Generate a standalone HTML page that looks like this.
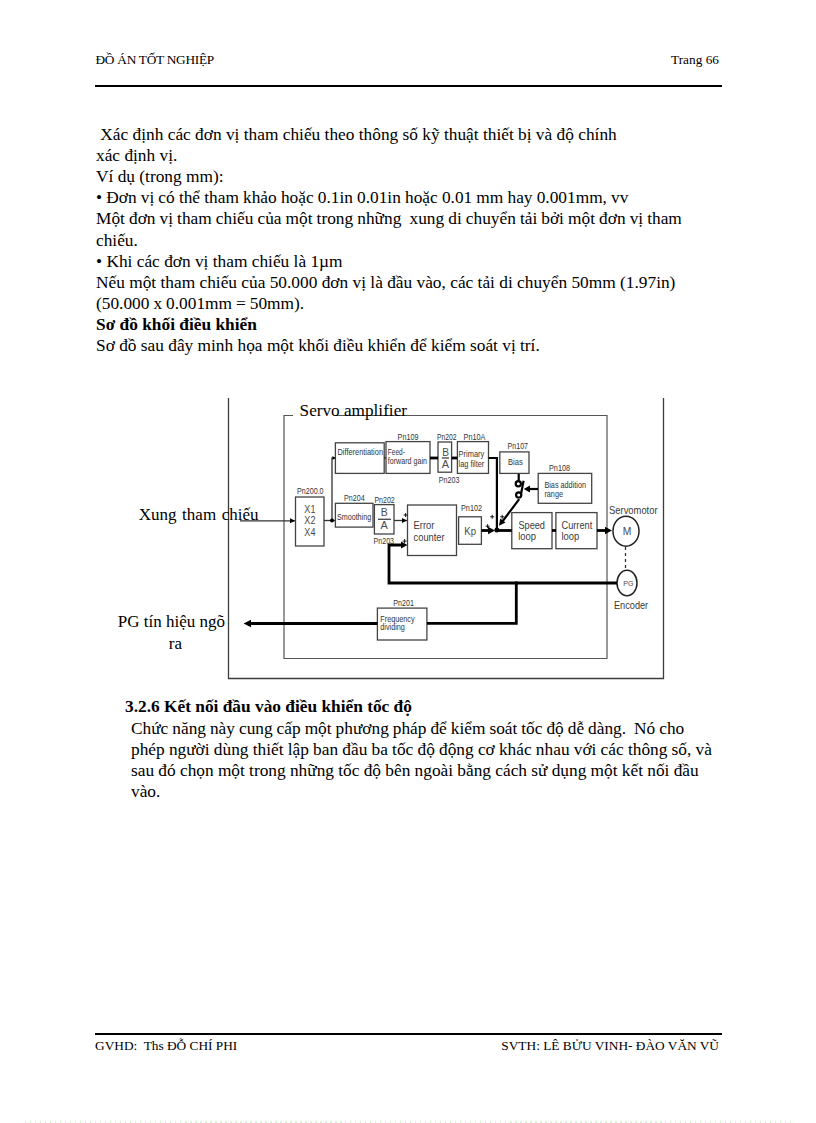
<!DOCTYPE html>
<html><head><meta charset="utf-8">
<style>
html,body{margin:0;padding:0;background:#fff;}
body{width:816px;height:1123px;position:relative;overflow:hidden;font-family:"Liberation Serif",serif;color:#000;}
.l{position:absolute;white-space:pre;font-size:17.33px;line-height:21px;left:96px;}
.h{position:absolute;white-space:pre;font-size:13.33px;line-height:15px;}
.b{font-weight:bold;}
svg{position:absolute;left:0;top:0;}
</style></head><body>
<div class="h" style="left:95.5px;top:52px;letter-spacing:-0.27px;">ĐỒ ÁN TỐT NGHIỆP</div>
<div class="h" style="right:97px;top:52px;">Trang 66</div>
<div style="position:absolute;left:95px;top:85px;width:627px;height:2px;background:#000;"></div>

<div class="l" style="top:124.00px;"> Xác định các đơn vị tham chiếu theo thông số kỹ thuật thiết bị và độ chính</div>
<div class="l" style="top:145.12px;">xác định vị.</div>
<div class="l" style="top:166.24px;">Ví dụ (trong mm):</div>
<div class="l" style="top:187.36px;word-spacing:-0.17px;">• Đơn vị có thể tham khảo hoặc 0.1in 0.01in hoặc 0.01 mm hay 0.001mm, vv</div>
<div class="l" style="top:208.48px;word-spacing:-0.25px;">Một đơn vị tham chiếu của một trong những  xung di chuyển tải bởi một đơn vị tham</div>
<div class="l" style="top:229.60px;">chiếu.</div>
<div class="l" style="top:250.72px;">• Khi các đơn vị tham chiếu là 1µm</div>
<div class="l" style="top:271.84px;">Nếu một tham chiếu của 50.000 đơn vị là đầu vào, các tải di chuyển 50mm (1.97in)</div>
<div class="l" style="top:292.96px;word-spacing:-0.35px;">(50.000 x 0.001mm = 50mm).</div>
<div class="l b" style="top:314.08px;">Sơ đồ khối điều khiển</div>
<div class="l" style="top:335.20px;">Sơ đồ sau đây minh họa một khối điều khiển để kiểm soát vị trí.</div>

<svg width="816" height="1123" viewBox="0 0 816 1123">
<defs>
<marker id="ah" viewBox="0 0 10 10" refX="10" refY="5" markerWidth="5" markerHeight="5" orient="auto" markerUnits="userSpaceOnUse"><path d="M0,0 L10,5 L0,10 z" fill="#000"/></marker>
</defs>
<!-- outer frame -->
<g fill="none" stroke="#3c3c3c" stroke-width="1.3">
<path d="M228.5,398 V678.5 H663.5 V398"/>
</g>
<!-- inner servo amplifier rect -->
<g fill="none" stroke="#555" stroke-width="1.2">
<path d="M293,415.5 H284 V658.5 H607 V415.5 H336"/>
</g>
<text x="299.6" y="415.6" font-family="Liberation Serif" font-size="17.2" fill="#000">Servo amplifier</text>
<text x="138.8" y="520.4" font-family="Liberation Serif" font-size="17" fill="#000" word-spacing="1.3">Xung tham chiếu</text>
<text x="117.8" y="627.3" font-family="Liberation Serif" font-size="17" fill="#000">PG tín hiệu ngõ</text>
<text x="168.8" y="648.8" font-family="Liberation Serif" font-size="17" fill="#000">ra</text>

<!-- boxes -->
<g fill="none" stroke="#444" stroke-width="1.3">
<rect x="295.5" y="497" width="28.5" height="49"/>
<rect x="335.4" y="442.8" width="48.8" height="30.6"/>
<rect x="386" y="441.6" width="44" height="31.8"/>
<rect x="438" y="442" width="13.6" height="30.2"/>
<rect x="457.4" y="441.6" width="31.1" height="31.8"/>
<rect x="499.8" y="451.9" width="29.2" height="21.5"/>
<rect x="538.2" y="473.4" width="53.5" height="29.9"/>
<rect x="335.4" y="503.3" width="37.6" height="23.8"/>
<rect x="374.4" y="504.6" width="19.6" height="29.4"/>
<rect x="407.5" y="505" width="49" height="50.5"/>
<rect x="458.6" y="516.8" width="22.8" height="27.5"/>
<rect x="511.8" y="512.6" width="40.2" height="36.1"/>
<rect x="555.9" y="512.6" width="41.1" height="36.1"/>
<rect x="377.4" y="608.1" width="49.5" height="31.9"/>
<ellipse cx="626" cy="531.2" rx="13" ry="15" stroke="#222" stroke-width="1.5"/>
<ellipse cx="627" cy="583" rx="10" ry="12.7" stroke="#222" stroke-width="1.5"/>
<line x1="441.8" y1="458" x2="449" y2="458"/>
<line x1="378" y1="519.3" x2="391" y2="519.3"/>
</g>

<!-- thin lines -->
<g fill="none" stroke="#333" stroke-width="1.3">
<line x1="240" y1="520.8" x2="295" y2="520.8" marker-end="url(#ah)"/>
<line x1="324" y1="520.5" x2="335" y2="520.5"/>
<path d="M332,520.5 V458 H335"/>
<line x1="394" y1="520.5" x2="407" y2="520.5" marker-end="url(#ah)"/>
<line x1="384" y1="458" x2="386" y2="458"/>
<line x1="625.5" y1="547" x2="625.5" y2="570" stroke-dasharray="3,3"/>
</g>
<circle cx="332" cy="520.5" r="2" fill="#000"/>

<!-- thick lines -->
<g fill="none" stroke="#000" stroke-width="2.8">
<path d="M617,583 H389 V545 H402"/>
<path d="M516.3,583 V623.3 H427"/>
<line x1="377.4" y1="623.5" x2="249" y2="623.5"/>
<line x1="481.4" y1="530.5" x2="490" y2="530.5"/>
<line x1="497" y1="530.5" x2="511.8" y2="530.5"/>
<line x1="552" y1="530.5" x2="556" y2="530.5"/>
<line x1="597" y1="530.5" x2="606" y2="530.5"/>
<line x1="430" y1="458" x2="438" y2="458"/>
<line x1="451.6" y1="458" x2="457.4" y2="458"/>
</g>
<g fill="none" stroke="#000" stroke-width="2.2">
<path d="M488.5,458 H496.9 V529"/>
<line x1="519.2" y1="499.2" x2="502" y2="522"/>
<line x1="518.7" y1="473.9" x2="518.7" y2="480.5"/>
<line x1="538" y1="489" x2="528" y2="489"/>
<circle cx="518.3" cy="483.7" r="2.6"/>
<line x1="521" y1="494" x2="523.6" y2="480.8"/>
<circle cx="518.7" cy="494.9" r="2.6"/>
</g>
<!-- arrowheads -->
<g fill="#000">
<path d="M407.5,545 L401,541.5 L401,548.5 z"/>
<path d="M243.6,623.5 L251,619.8 L251,627.2 z"/>
<path d="M495,530.5 L488,526.8 L488,534.2 z"/>
<path d="M612,530.5 L605,526.8 L605,534.2 z"/>
<path d="M523.8,489 L530,485.6 L530,492.4 z"/>
<path d="M499,525.8 L500.2,518.5 L505.5,522.5 z"/>
<path d="M335.4,458 L332.5,456 L332.5,460 z"/>
<circle cx="496.9" cy="530" r="2.5"/>
<circle cx="516.3" cy="583" r="1.8"/>
</g>

<!-- labels -->
<g font-family="Liberation Sans" fill="#333" font-size="8.6" lengthAdjust="spacingAndGlyphs">
<text x="297" y="493.5" textLength="26.6" lengthAdjust="spacingAndGlyphs">Pn200.0</text>
<text x="397.6" y="439.6" textLength="20.9" lengthAdjust="spacingAndGlyphs">Pn109</text>
<text x="436.9" y="439.6" textLength="19.6" lengthAdjust="spacingAndGlyphs">Pn202</text>
<text x="438.8" y="483.2" textLength="20.6" lengthAdjust="spacingAndGlyphs">Pn203</text>
<text x="463.5" y="440" textLength="22" lengthAdjust="spacingAndGlyphs">Pn10A</text>
<text x="507.6" y="449.4" textLength="20.4" lengthAdjust="spacingAndGlyphs">Pn107</text>
<text x="549" y="470.7" textLength="21" lengthAdjust="spacingAndGlyphs">Pn108</text>
<text x="344" y="501" textLength="20.6" lengthAdjust="spacingAndGlyphs">Pn204</text>
<text x="374.4" y="503.3" textLength="20.3" lengthAdjust="spacingAndGlyphs">Pn202</text>
<text x="373.6" y="543.8" textLength="20.4" lengthAdjust="spacingAndGlyphs">Pn203</text>
<text x="461" y="511.2" textLength="21" lengthAdjust="spacingAndGlyphs">Pn102</text>
<text x="393.3" y="605.7" textLength="20.7" lengthAdjust="spacingAndGlyphs">Pn201</text>
<text x="337.5" y="455" textLength="45.5" lengthAdjust="spacingAndGlyphs">Differentiation</text>
<text x="387.8" y="455" textLength="17" lengthAdjust="spacingAndGlyphs">Feed-</text>
<text x="387.8" y="464.3" textLength="39.2" lengthAdjust="spacingAndGlyphs">forward gain</text>
<text x="458.6" y="456.8" textLength="25.7" lengthAdjust="spacingAndGlyphs">Primary</text>
<text x="458.6" y="466.5" textLength="25.7" lengthAdjust="spacingAndGlyphs">lag filter</text>
<text x="508" y="465.3" textLength="14.8" lengthAdjust="spacingAndGlyphs">Bias</text>
<text x="544.4" y="488" textLength="41.6" lengthAdjust="spacingAndGlyphs">Bias addition</text>
<text x="544.4" y="496.5" textLength="18.6" lengthAdjust="spacingAndGlyphs">range</text>
<text x="336.9" y="519.8" textLength="34.3" lengthAdjust="spacingAndGlyphs">Smoothing</text>
<text x="380.3" y="622" textLength="34.3" lengthAdjust="spacingAndGlyphs">Frequency</text>
<text x="380.3" y="630.2" textLength="24.6" lengthAdjust="spacingAndGlyphs">dividing</text>
</g>
<g font-family="Liberation Sans" fill="#4a4a4a" font-size="10.7" text-anchor="middle" lengthAdjust="spacingAndGlyphs">
<text x="309.9" y="513.1" textLength="11.1" lengthAdjust="spacingAndGlyphs">X1</text>
<text x="309.9" y="524.4" textLength="11.1" lengthAdjust="spacingAndGlyphs">X2</text>
<text x="309.9" y="535.8" textLength="11.1" lengthAdjust="spacingAndGlyphs">X4</text>
<text x="445.7" y="455.6" textLength="6.8" lengthAdjust="spacingAndGlyphs">B</text>
<text x="445.5" y="467.8" textLength="7.3" lengthAdjust="spacingAndGlyphs">A</text>
<text x="384.2" y="516.3" textLength="7" lengthAdjust="spacingAndGlyphs">B</text>
<text x="384.2" y="529.1" textLength="7.3" lengthAdjust="spacingAndGlyphs">A</text>
<text x="470.1" y="535.2" textLength="11.7" lengthAdjust="spacingAndGlyphs">Kp</text>
<text x="627.1" y="535.3" font-size="10.2" textLength="8.6" lengthAdjust="spacingAndGlyphs">M</text>
<text x="628.4" y="586.2" font-size="8" textLength="10.2" lengthAdjust="spacingAndGlyphs">PG</text>
</g>
<g font-family="Liberation Sans" fill="#3a3a3a" font-size="10.5">
<text x="413.6" y="529.1" textLength="20.8" lengthAdjust="spacingAndGlyphs">Error</text>
<text x="413.6" y="540.6" textLength="31" lengthAdjust="spacingAndGlyphs">counter</text>
<text x="518.4" y="529.3" textLength="26.6" lengthAdjust="spacingAndGlyphs">Speed</text>
<text x="518.2" y="539.6" textLength="17.8" lengthAdjust="spacingAndGlyphs">loop</text>
<text x="561.5" y="529.1" textLength="30.7" lengthAdjust="spacingAndGlyphs">Current</text>
<text x="561.5" y="539.6" textLength="17.8" lengthAdjust="spacingAndGlyphs">loop</text>
<text x="609" y="513.9" textLength="48.6" lengthAdjust="spacingAndGlyphs">Servomotor</text>
<text x="613.9" y="608.6" textLength="34.3" lengthAdjust="spacingAndGlyphs">Encoder</text>
</g>
<path d="M490.2,516.8h4M492.2,514.8v4M500.2,516.8h4M502.2,514.8v4M485.6,526.2h4M487.6,524.2v4M403.6,515.0h4M405.6,513.0v4M402.6,541.1h4M404.6,539.1v4" stroke="#111" stroke-width="1" fill="none"/>
</svg>

<div class="l b" style="left:125px;top:696.3px;">3.2.6 Kết nối đầu vào điều khiển tốc độ</div>
<div class="l" style="left:131px;top:717.5px;word-spacing:-0.35px;">Chức năng này cung cấp một phương pháp để kiểm soát tốc độ dễ dàng.  Nó cho</div>
<div class="l" style="left:131px;top:738.7px;word-spacing:-0.12px;">phép người dùng thiết lập ban đầu ba tốc độ động cơ khác nhau với các thông số, và</div>
<div class="l" style="left:131px;top:759.9px;word-spacing:-0.07px;">sau đó chọn một trong những tốc độ bên ngoài bằng cách sử dụng một kết nối đầu</div>
<div class="l" style="left:131px;top:781.1px;">vào.</div>

<div style="position:absolute;left:95px;top:1033px;width:627px;height:2px;background:#000;"></div>
<div class="h" style="left:95px;top:1038px;">GVHD:  Ths ĐỖ CHÍ PHI</div>
<div class="h" style="right:97px;top:1038px;">SVTH: LÊ BỬU VINH- ĐÀO VĂN VŨ</div>

<div style="position:absolute;left:25px;top:1121px;width:770px;height:2px;background:repeating-linear-gradient(90deg,#d6f5d6 0 1.5px,transparent 1.5px 5px);"></div>
</body></html>
